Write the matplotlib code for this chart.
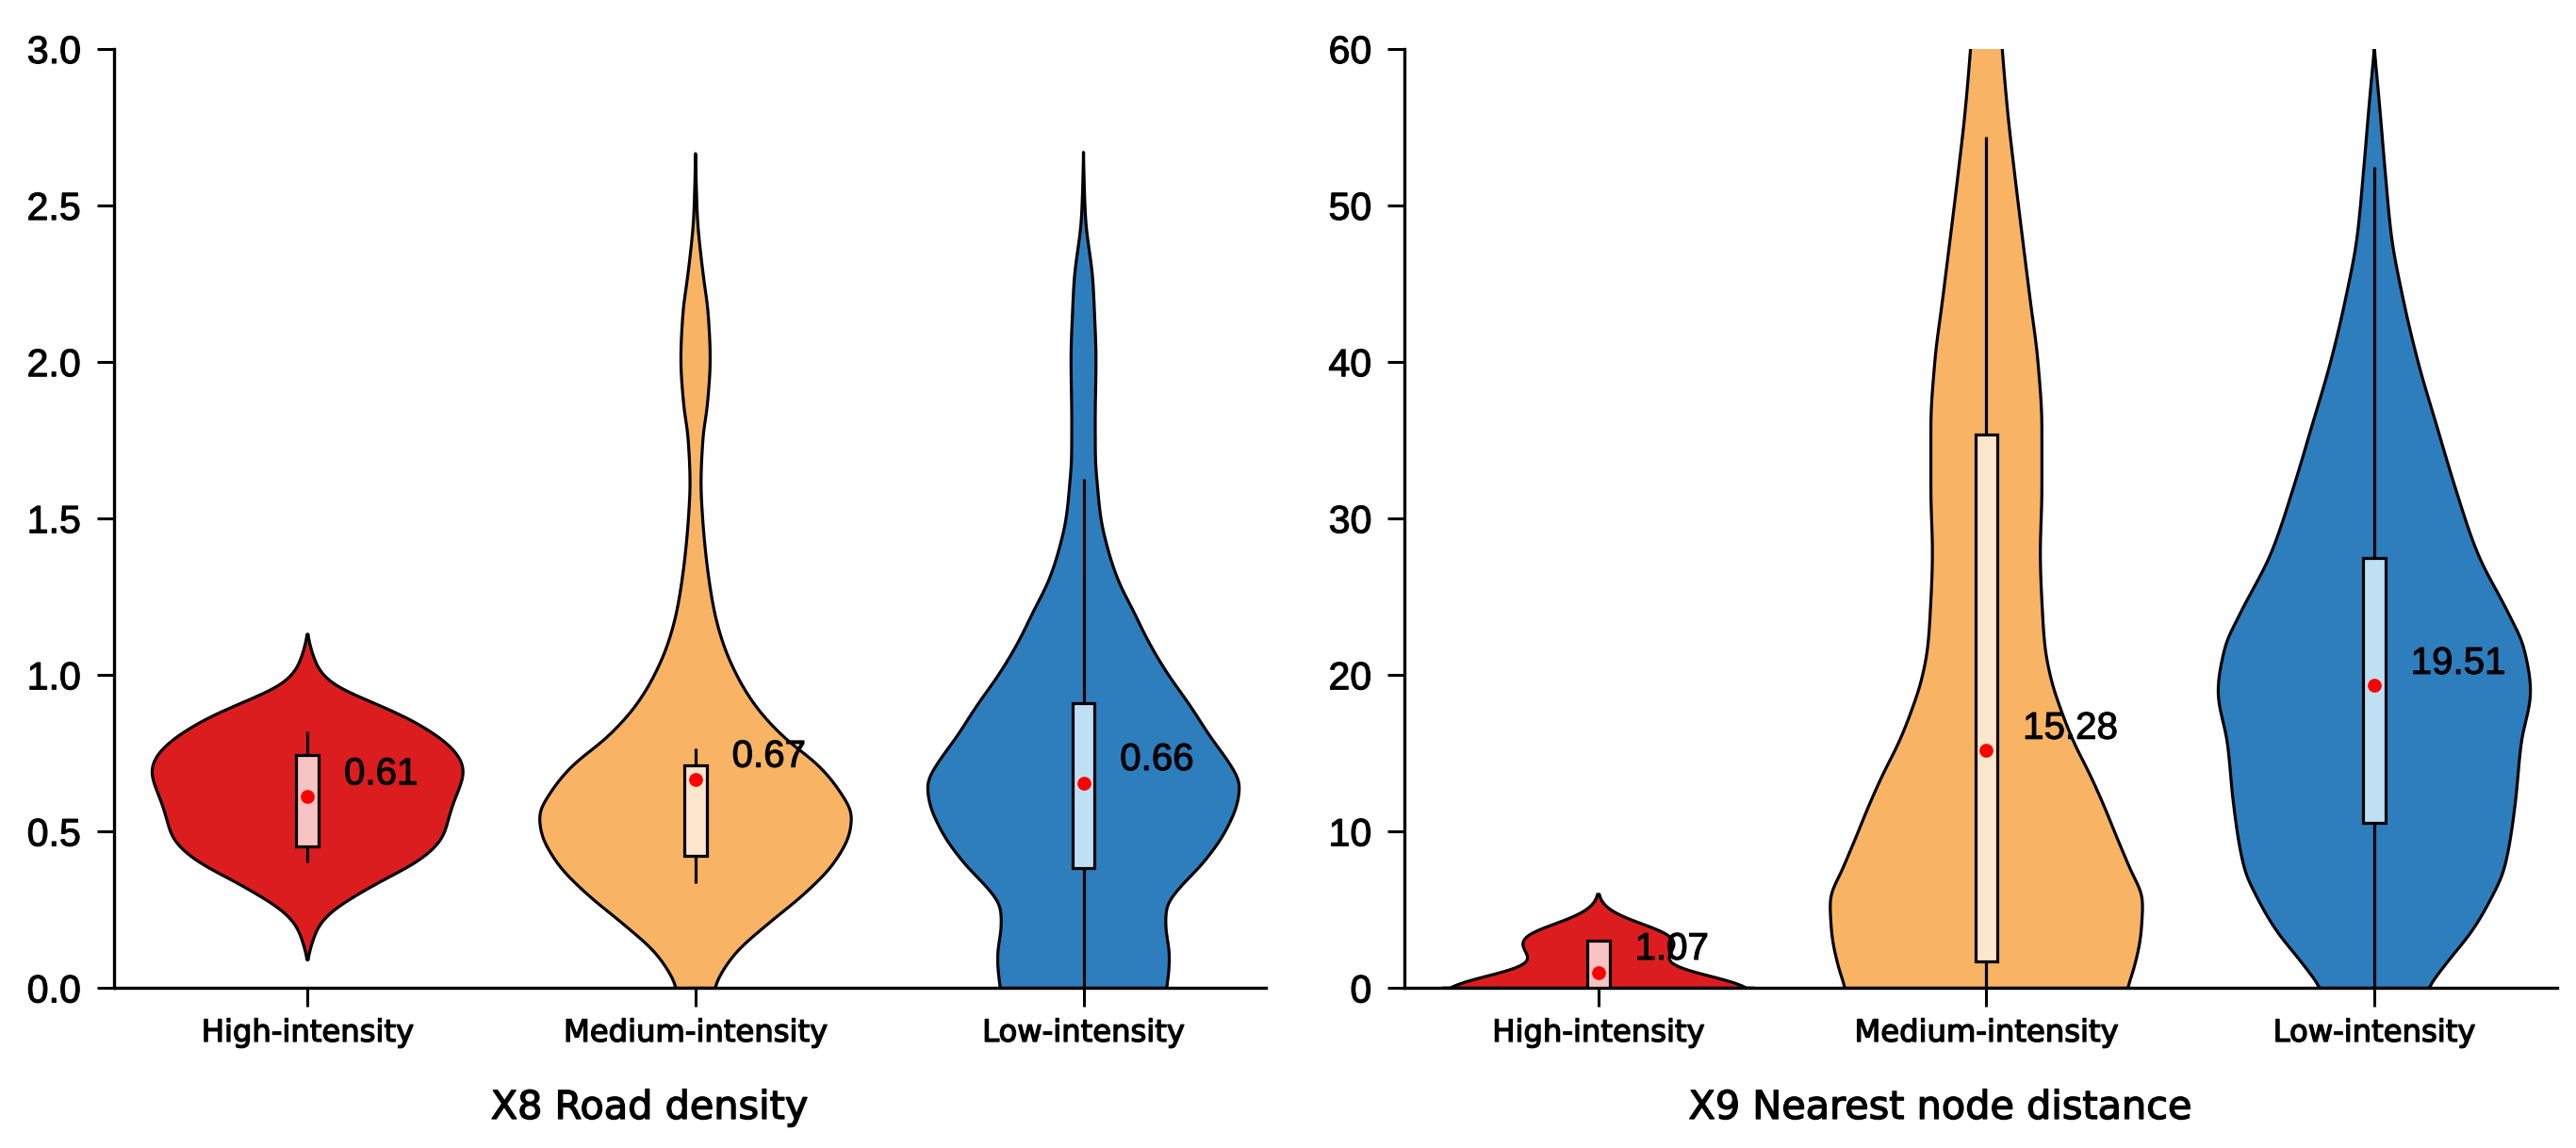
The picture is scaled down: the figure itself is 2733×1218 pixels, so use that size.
import numpy as np
import matplotlib
matplotlib.use("Agg")
import matplotlib.pyplot as plt
import matplotlib.patheffects as pe

# ---------------- data ----------------
categories = ["High-intensity", "Medium-intensity", "Low-intensity"]
violin_colors = ["#DC1D1F", "#F8B364", "#2E7EBE"]
box_colors = ["#F8C3C3", "#FCE6CD", "#BFDFF5"]

# X8 Road density: violin outlines (value, relative half-width)
road_high_y = [0.09, 0.146, 0.196, 0.246, 0.296, 0.347, 0.397, 0.447, 0.487, 0.538, 0.588,
               0.638, 0.69, 0.719, 0.769, 0.819, 0.870, 0.920, 0.970, 1.02, 1.071, 1.131]
road_high_w = [0.0, 0.03, 0.068, 0.157, 0.31, 0.49, 0.68, 0.81, 0.87, 0.90, 0.93,
               0.97, 1.0, 0.99, 0.92, 0.79, 0.61, 0.38, 0.165, 0.07, 0.03, 0.0]
road_med_y = [0.0, 0.103, 0.204, 0.303, 0.403, 0.503, 0.553, 0.623, 0.705, 0.804, 0.904,
              1.003, 1.103, 1.204, 1.305, 1.404, 1.504, 1.61, 1.76, 1.86, 2.01, 2.16, 2.26,
              2.36, 2.46, 2.56, 2.666]
road_med_w = [0.12, 0.24, 0.46, 0.70, 0.89, 0.99, 1.0, 0.93, 0.80, 0.56, 0.38,
              0.26, 0.175, 0.12, 0.086, 0.062, 0.045, 0.035, 0.048, 0.075, 0.094, 0.08, 0.054,
              0.03, 0.012, 0.005, 0.0]
road_low_y = [0.0, 0.103, 0.204, 0.26, 0.303, 0.403, 0.503, 0.603, 0.653, 0.705, 0.804,
              0.904, 1.003, 1.103, 1.204, 1.305, 1.404, 1.504, 1.60, 1.70, 1.81, 2.01, 2.16,
              2.26, 2.46, 2.56, 2.67]
road_low_w = [0.53, 0.55, 0.525, 0.53, 0.585, 0.77, 0.91, 0.99, 1.0, 0.95, 0.81,
              0.68, 0.54, 0.42, 0.32, 0.22, 0.155, 0.11, 0.09, 0.076, 0.075, 0.08, 0.07,
              0.06, 0.013, 0.005, 0.0]

road_q1 = [0.452, 0.422, 0.385]
road_q3 = [0.746, 0.713, 0.911]
road_wlo = [0.402, 0.336, 0.0]
road_whi = [0.82, 0.765, 1.626]
road_mean = [0.612, 0.666, 0.654]
road_labels = ["0.61", "0.67", "0.66"]
road_label_y = [0.684, 0.74, 0.73]

# X9 Nearest node distance
dist_high_y = [0.0, 0.28, 0.58, 0.89, 1.19, 1.49, 1.89, 2.29, 2.9, 3.3, 3.7, 4.1, 4.5, 4.9,
               5.3, 5.6, 6.0]
dist_high_w = [1.0, 0.93, 0.80, 0.66, 0.52, 0.44, 0.42, 0.47, 0.50, 0.49, 0.40, 0.28, 0.16,
               0.08, 0.03, 0.012, 0.0]
dist_med_y = [0.0, 1.5, 3.58, 5.6, 7.6, 9.5, 11.7, 13.7, 15.7, 17.7, 19.7, 21.8, 23.8, 27.8,
              31.9, 35.9, 40.0, 44.0, 48.0, 52.1, 56.1, 60.2, 63.0]
dist_med_w = [0.90, 0.95, 0.99, 1.0, 0.92, 0.84, 0.75, 0.66, 0.56, 0.48, 0.415, 0.375, 0.36,
              0.345, 0.355, 0.355, 0.33, 0.28, 0.23, 0.18, 0.135, 0.10, 0.08]
dist_low_y = [0.0, 1.96, 3.58, 5.6, 7.6, 11.7, 15.7, 18.95, 21.8, 23.8, 27.8, 31.9, 35.9,
              40.0, 44.0, 48.0, 52.1, 56.1, 60.0]
dist_low_w = [0.34, 0.49, 0.62, 0.74, 0.83, 0.90, 0.94, 1.0, 0.955, 0.865, 0.66, 0.52, 0.40,
              0.28, 0.185, 0.11, 0.07, 0.036, 0.0]

dist_q1 = [0.0, 1.7, 10.55]
dist_q3 = [3.04, 35.4, 27.5]
dist_wlo = [0.0, 0.0, 0.0]
dist_whi = [3.04, 54.4, 52.5]
dist_mean = [0.98, 15.2, 19.34]
dist_labels = ["1.07", "15.28", "19.51"]
dist_label_y = [2.5, 16.6, 20.75]

titles = ["X8 Road density", "X9 Nearest node distance"]
road_yticks = [0.0, 0.5, 1.0, 1.5, 2.0, 2.5, 3.0]
dist_yticks = [0, 10, 20, 30, 40, 50, 60]


# ---------------- helpers ----------------
def pchip_curve(x, y, n=800):
    """Smooth monotone cubic (PCHIP) rendering of a read outline."""
    x = np.asarray(x, float)
    y = np.asarray(y, float)
    h = np.diff(x)
    d = np.diff(y) / h
    k = len(x)
    m = np.zeros(k)
    for i in range(1, k - 1):
        if d[i - 1] * d[i] > 0:
            w1 = 2 * h[i] + h[i - 1]
            w2 = h[i] + 2 * h[i - 1]
            m[i] = (w1 + w2) / (w1 / d[i - 1] + w2 / d[i])

    def end(h0, h1, d0, d1):
        mm = ((2 * h0 + h1) * d0 - h0 * d1) / (h0 + h1)
        if np.sign(mm) != np.sign(d0):
            mm = 0.0
        elif np.sign(d0) != np.sign(d1) and abs(mm) > abs(3 * d0):
            mm = 3 * d0
        return mm

    m[0] = end(h[0], h[1], d[0], d[1])
    m[-1] = end(h[-1], h[-2], d[-1], d[-2])
    xn = np.linspace(x[0], x[-1], n)
    idx = np.clip(np.searchsorted(x, xn) - 1, 0, k - 2)
    t = (xn - x[idx]) / h[idx]
    h00 = 2 * t ** 3 - 3 * t ** 2 + 1
    h10 = t ** 3 - 2 * t ** 2 + t
    h01 = -2 * t ** 3 + 3 * t ** 2
    h11 = t ** 3 - t ** 2
    yn = h00 * y[idx] + h10 * h[idx] * m[idx] + h01 * y[idx + 1] + h11 * h[idx] * m[idx + 1]
    return xn, np.clip(yn, 0, None)


def soften(yy, ww, sigma):
    """Light Gaussian softening of the rendered outline (drawing only)."""
    dy = yy[1] - yy[0]
    s = max(sigma / dy, 1e-6)
    r = int(np.ceil(4 * s))
    kx = np.arange(-r, r + 1)
    ker = np.exp(-0.5 * (kx / s) ** 2)
    ker /= ker.sum()
    padded = np.pad(ww, r, mode="edge")
    out = np.convolve(padded, ker, mode="valid")
    out[0] = ww[0]
    out[-1] = ww[-1]
    return out


HALF_W = 0.403
BOX_W = 0.058
LW = 1.15
TXT_FX = [pe.withStroke(linewidth=0.4, foreground="black")]
TXT_FX2 = [pe.withStroke(linewidth=0.5, foreground="black")]


def draw_panel(ax, profiles, q1, q3, wlo, whi, mean, labels, label_y, ylim, yticks, yfmt, title):
    xs = np.arange(1, len(categories) + 1)
    span = ylim[1] - ylim[0]
    for i, (py, pw) in enumerate(profiles):
        yy, ww = pchip_curve(py, pw)
        ww = soften(yy, ww, 0.007 * span)
        c = xs[i]
        xpoly = np.concatenate([c - HALF_W * ww, (c + HALF_W * ww)[::-1]])
        ypoly = np.concatenate([yy, yy[::-1]])
        ax.fill(xpoly, ypoly, facecolor=violin_colors[i], edgecolor="black",
                linewidth=LW, zorder=2, joinstyle="round")
    ax.vlines(xs, wlo, whi, colors="black", linewidth=LW, zorder=3)
    ax.bar(xs, np.array(q3) - np.array(q1), bottom=q1, width=BOX_W, color=box_colors,
           edgecolor="black", linewidth=LW, zorder=4)
    ax.scatter(xs, mean, s=28, color="#FF0000", zorder=5, linewidths=0)
    for i in range(len(xs)):
        ax.text(xs[i] + 0.094, label_y[i], labels[i], fontsize=14.5,
                family="Liberation Sans", ha="left", va="center", zorder=6,
                path_effects=TXT_FX)

    ax.set_xlim(0.5, 3.47)
    ax.set_ylim(*ylim)
    ax.set_yticks(yticks)
    ax.set_yticklabels([yfmt.format(v) for v in yticks], family="Liberation Sans",
                       fontsize=14.8)
    ax.set_xticks(xs)
    ax.set_xticklabels(categories, family="DejaVu Sans", fontsize=11.6)
    for lab in ax.get_yticklabels():
        lab.set_path_effects(TXT_FX)
    for lab in ax.get_xticklabels():
        lab.set_path_effects(TXT_FX2)
    for s in ["top", "right"]:
        ax.spines[s].set_visible(False)
    for s in ["left", "bottom"]:
        ax.spines[s].set_linewidth(1.2)
    ax.tick_params(axis="x", length=7.2, width=1.1, pad=4.5)
    ax.tick_params(axis="y", length=6.5, width=1.1, pad=6.0)
    ax.set_xlabel(title, family="DejaVu Sans", fontsize=14.9, path_effects=TXT_FX2)
    ax.xaxis.set_label_coords(0.465, -0.139)
    ax.xaxis.label.set_va("baseline")


fig = plt.figure(figsize=(2733 / 200, 1218 / 200), dpi=200)
ax1 = fig.add_axes([0.0441, 0.1392, 0.4473, 0.8181])
ax2 = fig.add_axes([0.5452, 0.1392, 0.4473, 0.8181])

draw_panel(ax1,
           [(road_high_y, road_high_w), (road_med_y, road_med_w), (road_low_y, road_low_w)],
           road_q1, road_q3, road_wlo, road_whi, road_mean, road_labels, road_label_y,
           (0, 3.0), road_yticks, "{:.1f}", titles[0])
draw_panel(ax2,
           [(dist_high_y, dist_high_w), (dist_med_y, dist_med_w), (dist_low_y, dist_low_w)],
           dist_q1, dist_q3, dist_wlo, dist_whi, dist_mean, dist_labels, dist_label_y,
           (0, 60), dist_yticks, "{:d}", titles[1])

fig.savefig("out.png", dpi=200)
